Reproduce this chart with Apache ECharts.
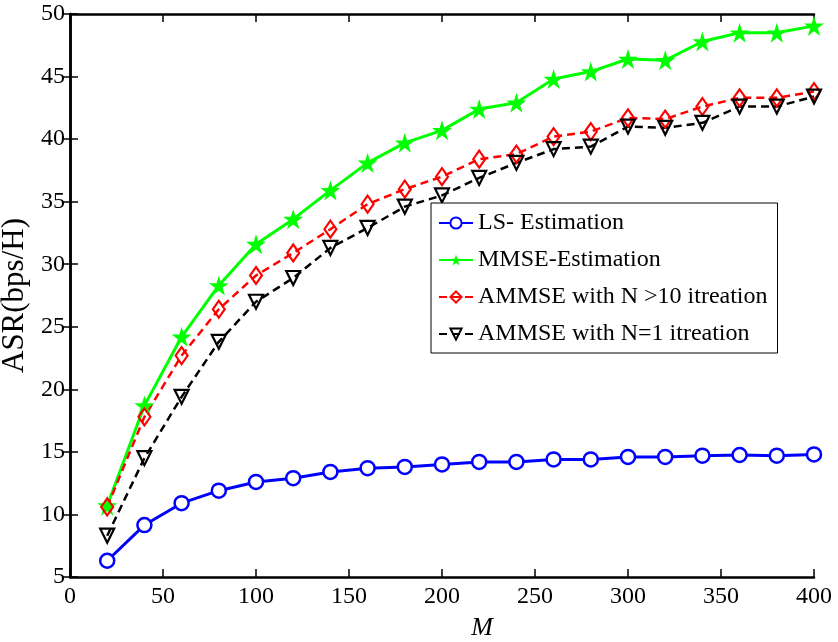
<!DOCTYPE html>
<html>
<head>
<meta charset="utf-8">
<script src="https://cdn.jsdelivr.net/npm/echarts@6/dist/echarts.min.js"></script>
<style>html,body{margin:0;padding:0;background:#fff;}#c{width:838px;height:642px;}</style>
</head>
<body>
<div id="c"></div>
<script>
const M = [20, 40, 60, 80, 100, 120, 140, 160, 180, 200, 220, 240, 260, 280, 300, 320, 340, 360, 380, 400];
const lsEst = [6.3, 9.15, 10.9, 11.9, 12.6, 12.9, 13.4, 13.7, 13.8, 14.0, 14.2, 14.2, 14.4, 14.4, 14.6, 14.6, 14.7, 14.75, 14.7, 14.8];
const mmseEst = [10.7, 18.7, 24.2, 28.3, 31.6, 33.6, 35.9, 38.1, 39.7, 40.7, 42.4, 42.9, 44.8, 45.4, 46.4, 46.3, 47.8, 48.5, 48.5, 49.05];
const ammse10 = [10.6, 17.8, 22.7, 26.4, 29.1, 30.9, 32.8, 34.8, 36.0, 37.0, 38.4, 38.8, 40.2, 40.6, 41.7, 41.6, 42.6, 43.3, 43.3, 43.8];
const ammse1 = [8.3, 14.5, 19.4, 23.8, 27.0, 28.9, 31.3, 32.9, 34.6, 35.5, 36.9, 38.1, 39.2, 39.4, 41.0, 40.9, 41.3, 42.6, 42.6, 43.4];
const names = ['LS- Estimation', 'MMSE-Estimation', 'AMMSE with N >10 itreation', 'AMMSE with N=1 itreation'];

function starPath() {
  let d = '';
  for (let k = 0; k < 10; k++) {
    const r = k % 2 === 0 ? 50 : 19;
    const a = -Math.PI / 2 + k * Math.PI / 5;
    const px = (50 + r * Math.cos(a)).toFixed(2), py = (50 + r * Math.sin(a)).toFixed(2);
    d += (k === 0 ? 'M' : 'L') + px + ' ' + py + ' ';
  }
  return 'path://' + d + 'Z';
}

const font = 'Liberation Serif, Times New Roman, serif';
const pair = arr => M.map((x, i) => [x, arr[i]]);
const axisLine = { show: true, lineStyle: { color: '#000', width: 2.5 } };
const tick = { show: true, inside: true, length: 8, lineStyle: { color: '#000', width: 1.5 } };

const chart = echarts.init(document.getElementById('c'));
chart.setOption({
  animation: false,
  backgroundColor: '#fff',
  grid: { left: 70, right: 24, top: 14, bottom: 65, containLabel: false, outerBoundsMode: 'none' },
  xAxis: [{
    type: 'value', min: 0, max: 400, interval: 50,
    axisLine, axisTick: tick, splitLine: { show: false },
    axisLabel: { color: '#000', fontSize: 24, fontFamily: font, margin: 8 },
    name: 'M', nameLocation: 'middle', nameGap: 38,
    nameTextStyle: { color: '#000', fontSize: 26, fontStyle: 'italic', fontFamily: font, padding: [0, 0, 0, 80] }
  }, {
    type: 'value', min: 0, max: 400, interval: 50, position: 'top',
    axisLine, axisTick: tick, axisLabel: { show: false }, splitLine: { show: false }
  }],
  yAxis: [{
    type: 'value', min: 5, max: 50, interval: 5,
    axisLine, axisTick: tick, splitLine: { show: false },
    axisLabel: { color: '#000', fontSize: 24, fontFamily: font, margin: 5 },
    name: 'ASR(bps/H)', nameLocation: 'middle', nameGap: 30,
    nameTextStyle: { color: '#000', fontSize: 31, fontFamily: font }
  }, {
    type: 'value', min: 5, max: 50, interval: 5, position: 'right',
    axisLine, axisTick: tick, axisLabel: { show: false }, splitLine: { show: false }
  }],
  legend: {
    orient: 'vertical', left: 431, top: 203,
    data: names,
    backgroundColor: '#fff', borderColor: '#000', borderWidth: 1, borderRadius: 0,
    padding: [8, 10, 7, 7],
    itemWidth: 34, itemHeight: 14, itemGap: 13,
    textStyle: { color: '#000', fontSize: 24, fontFamily: font, lineHeight: 24 }
  },
  series: [{
    name: names[0], type: 'line', data: pair(lsEst),
    symbol: 'circle', symbolSize: 14,
    itemStyle: { color: '#fff', borderColor: '#0000ff', borderWidth: 2.5 },
    lineStyle: { color: '#0000ff', width: 3 }
  }, {
    name: names[1], type: 'line', data: pair(mmseEst),
    symbol: starPath(), symbolSize: 20,
    itemStyle: { color: '#00ff00', borderColor: '#00ff00', borderWidth: 0 },
    lineStyle: { color: '#00ff00', width: 3 }
  }, {
    name: names[2], type: 'line', data: pair(ammse10),
    symbol: 'diamond', symbolSize: [12, 17],
    itemStyle: { color: 'rgba(255,255,255,0)', borderColor: '#ff0000', borderWidth: 2.2 },
    lineStyle: { color: '#ff0000', width: 2.5, type: [8, 5] }
  }, {
    name: names[3], type: 'line', data: pair(ammse1),
    symbol: 'triangle', symbolRotate: 180, symbolSize: 14,
    itemStyle: { color: 'rgba(255,255,255,0)', borderColor: '#000', borderWidth: 2.2 },
    lineStyle: { color: '#000', width: 2.5, type: [8, 5] }
  }]
});
</script>
</body>
</html>
